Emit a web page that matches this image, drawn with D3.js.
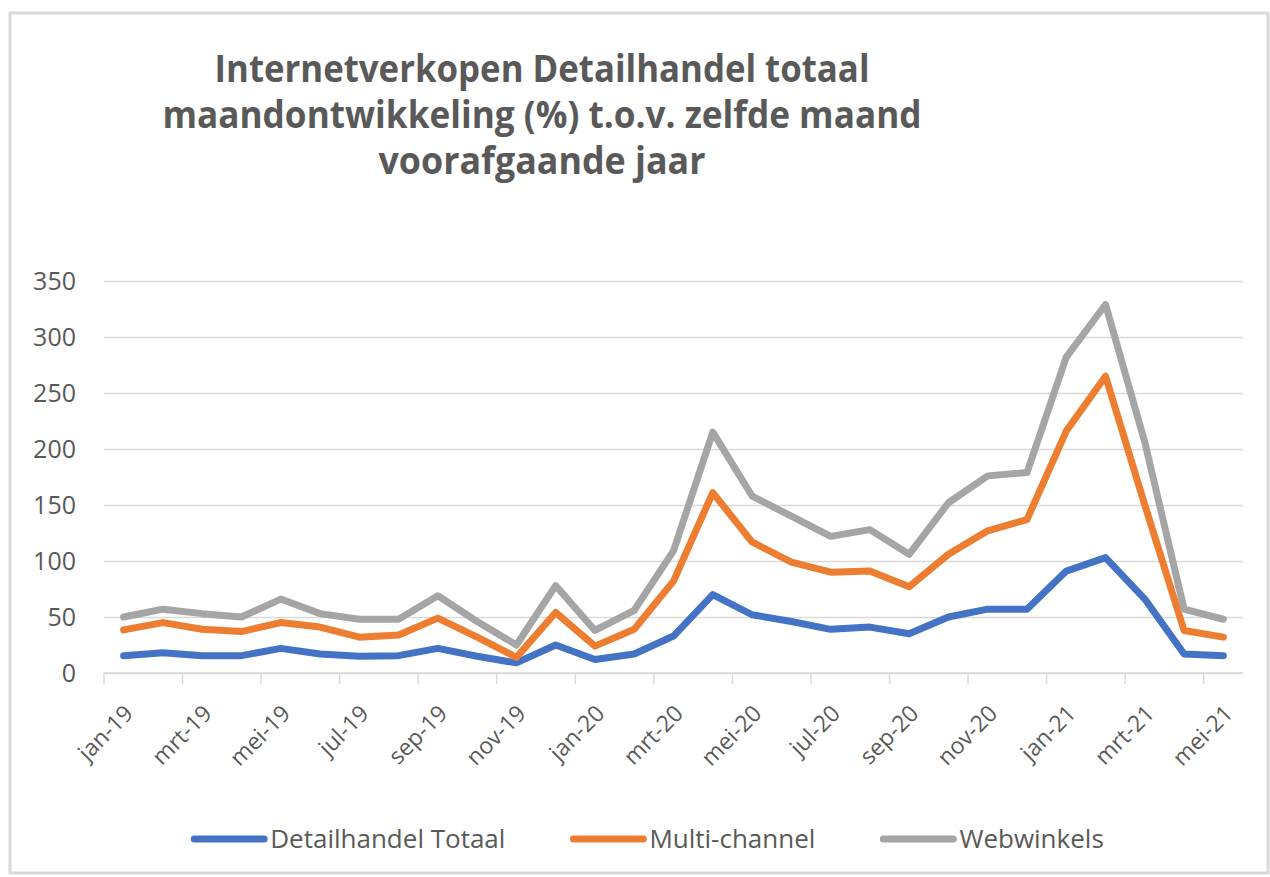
<!DOCTYPE html>
<html>
<head>
<meta charset="utf-8">
<script src="https://cdn.jsdelivr.net/npm/d3@7"></script>
<style>
    body { margin: 0; background: #fff; }
    text { font-family: 'Open Sans', sans-serif; fill: #595959; }
</style>
</head>
<body>
<div id="chart"></div>
<script>
const months = ['jan-19', 'feb-19', 'mrt-19', 'apr-19', 'mei-19', 'jun-19', 'jul-19', 'aug-19', 'sep-19', 'okt-19', 'nov-19', 'dec-19',
    'jan-20', 'feb-20', 'mrt-20', 'apr-20', 'mei-20', 'jun-20', 'jul-20', 'aug-20', 'sep-20', 'okt-20', 'nov-20', 'dec-20',
    'jan-21', 'feb-21', 'mrt-21', 'apr-21', 'mei-21'];

const detailhandelTotaal = [15.5, 18, 15.5, 15.5, 22, 17, 15, 15.5, 22, 15, 9, 25, 12, 17, 33, 70, 52, 46, 39, 41, 35, 50, 57, 57, 91, 103, 66, 17, 15.5];
const multiChannel = [38.5, 45, 39, 37, 45, 41, 32, 34, 49, 32, 14, 54, 24, 39, 82, 161, 117, 99, 90, 91, 77, 106, 127, 137, 216, 265, 150, 38, 32];
const webwinkels = [50, 57, 53, 50, 66, 53, 48, 48, 69, 46, 25, 78, 38, 56, 109, 215, 158, 140, 122, 128, 106, 152, 176, 179, 282, 329, 206, 57, 48];

const seriesNames = ['Detailhandel Totaal', 'Multi-channel', 'Webwinkels'];
const seriesColors = ['#4472c4', '#ed7d31', '#a5a5a5'];
const yTicks = [0, 50, 100, 150, 200, 250, 300, 350];
const titleLines = ['Internetverkopen Detailhandel totaal', 'maandontwikkeling (%) t.o.v. zelfde maand', 'voorafgaande jaar'];

class LineChart {

    constructor(opts) {
        this.element = opts.element;
        this.series = opts.series;
        this.draw();
    }

    draw() {
        this.width = 1270;
        this.height = 877;
        this.margin = { top: 281, right: 27, bottom: 204, left: 104 };

        const svg = d3.select(this.element).append('svg')
            .attr('width', this.width)
            .attr('height', this.height);
        this.svg = svg;

        svg.append('rect')
            .attr('x', 10).attr('y', 13)
            .attr('width', this.width - 12).attr('height', this.height - 17)
            .attr('fill', '#fff')
            .attr('stroke', '#d9d9d9')
            .attr('stroke-width', 3);

        this.createScales();
        this.addTitle();
        this.addAxes();
        this.addLines();
        this.addLegend();
    }

    createScales() {
        this.xScale = d3.scaleBand()
            .domain(months)
            .range([this.margin.left, this.width - this.margin.right]);

        this.yScale = d3.scaleLinear()
            .domain([0, 350])
            .range([this.height - this.margin.bottom, this.margin.top]);
    }

    addTitle() {
        const widths = [655, 759, 327];
        this.svg.append('g')
            .selectAll('text')
            .data(titleLines)
            .enter()
            .append('text')
            .text(d => d)
            .attr('x', 542)
            .attr('y', (d, i) => 82 + i * 46)
            .attr('text-anchor', 'middle')
            .attr('font-family', 'Lato, sans-serif')
            .attr('font-weight', 700)
            .attr('font-size', 37)
            .attr('textLength', (d, i) => widths[i])
            .attr('lengthAdjust', 'spacingAndGlyphs');
    }

    addAxes() {
        const x0 = this.margin.left;
        const x1 = this.width - this.margin.right;
        const yBase = this.yScale(0);

        // gridlines
        const grid = this.svg.append('g')
            .attr('transform', `translate(${x0},0)`)
            .call(d3.axisLeft(this.yScale).tickValues(yTicks).tickSize(-(x1 - x0)).tickFormat(''));
        grid.select('.domain').remove();
        grid.selectAll('line').attr('stroke', '#d9d9d9').attr('stroke-width', 1.5);

        // y labels
        const yAxis = this.svg.append('g')
            .attr('transform', `translate(76,0)`)
            .call(d3.axisLeft(this.yScale).tickValues(yTicks).tickSize(0).tickPadding(0));
        yAxis.select('.domain').remove();
        yAxis.selectAll('text')
            .attr('font-size', 25)
            .attr('font-family', 'Open Sans, sans-serif')
            .attr('fill', '#595959');

        // x axis line + tick marks on category boundaries
        const labelMonths = months.filter((d, i) => i % 2 === 0);
        const xg = this.svg.append('g');
        xg.append('line')
            .attr('x1', x0).attr('x2', x1)
            .attr('y1', yBase).attr('y2', yBase)
            .attr('stroke', '#d9d9d9').attr('stroke-width', 1.5);
        xg.selectAll('.tick-mark')
            .data(labelMonths)
            .enter()
            .append('line')
            .attr('x1', d => this.xScale(d)).attr('x2', d => this.xScale(d))
            .attr('y1', yBase).attr('y2', yBase + 11)
            .attr('stroke', '#d9d9d9').attr('stroke-width', 1.5);

        const xAxis = this.svg.append('g')
            .attr('transform', `translate(0,${yBase})`)
            .call(d3.axisBottom(this.xScale).tickValues(labelMonths).tickSize(0));
        xAxis.select('.domain').remove();
        xAxis.selectAll('text')
            .attr('y', 0).attr('dy', 0).attr('x', 0)
            .attr('text-anchor', 'end')
            .attr('transform', 'translate(11,42) rotate(-45)')
            .attr('font-size', 23)
            .attr('font-family', 'Open Sans, sans-serif')
            .attr('fill', '#595959');
    }

    addLines() {
        const half = this.xScale.bandwidth() / 2;
        const line = d3.line()
            .x((d, i) => this.xScale(months[i]) + half)
            .y(d => this.yScale(d));

        this.svg.append('g')
            .selectAll('path')
            .data(this.series)
            .enter()
            .append('path')
            .attr('d', d => line(d.values))
            .attr('fill', 'none')
            .attr('stroke', d => d.color)
            .attr('stroke-width', 7)
            .attr('stroke-linejoin', 'round')
            .attr('stroke-linecap', 'round');
    }

    addLegend() {
        const lineLen = 70, gap = 6, itemGap = 68, yPos = 839;
        const legend = this.svg.append('g');
        const items = legend.selectAll('g')
            .data(this.series)
            .enter()
            .append('g');

        items.append('line')
            .attr('x1', 0).attr('x2', lineLen)
            .attr('y1', yPos).attr('y2', yPos)
            .attr('stroke', d => d.color)
            .attr('stroke-width', 7)
            .attr('stroke-linecap', 'round');

        items.append('text')
            .text(d => d.name)
            .attr('x', lineLen + gap)
            .attr('y', yPos + 9)
            .attr('font-size', 26)
            .attr('font-family', 'Open Sans, sans-serif');

        let widths = [];
        items.selectAll('text').each(function() { widths.push(this.getComputedTextLength()); });
        const total = d3.sum(widths, w => lineLen + gap + w) + itemGap * (widths.length - 1);
        let cursor = 649 - total / 2;
        items.attr('transform', (d, i) => {
            const t = `translate(${cursor},0)`;
            cursor += lineLen + gap + widths[i] + itemGap;
            return t;
        });
    }
}

new LineChart({
    element: document.getElementById('chart'),
    series: [
        { name: seriesNames[0], color: seriesColors[0], values: detailhandelTotaal },
        { name: seriesNames[1], color: seriesColors[1], values: multiChannel },
        { name: seriesNames[2], color: seriesColors[2], values: webwinkels }
    ]
});
</script>
</body>
</html>
